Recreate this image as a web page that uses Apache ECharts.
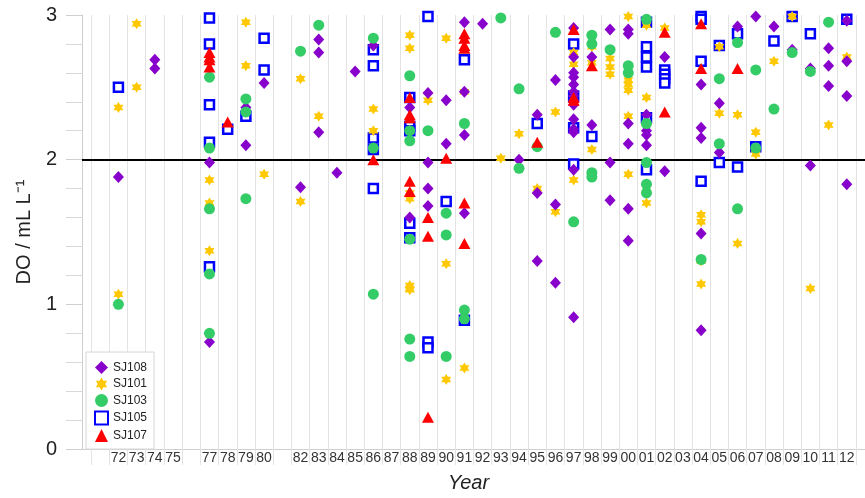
<!DOCTYPE html>
<html>
<head>
<meta charset="utf-8">
<script src="https://cdn.jsdelivr.net/npm/echarts@6/dist/echarts.min.js"></script>
<style>
    html, body { margin: 0; padding: 0; background: #fff; }
    #chart { width: 865px; height: 498px; }
</style>
</head>
<body>
<div id="chart"></div>
<script>
// Axis range and labels
const firstYear = 1970;
const lastYear = 2013;
const unlabeledYears = [1970, 1971, 1976, 1981];
const doTicks = [0, 1, 2, 3];
const doThreshold = 2;

// DO readings per station, [year, DO]
const sj108 = [
    [1972, 1.88], [1974, 2.69], [1974, 2.63], [1977, 1.98], [1977, 0.74],
    [1979, 2.36], [1979, 2.10], [1980, 2.53], [1982, 1.81],
    [1983, 2.83], [1983, 2.74], [1983, 2.19], [1984, 1.91], [1985, 2.61], [1986, 2.79],
    [1988, 2.36], [1988, 1.60], [1989, 2.46], [1989, 1.98], [1989, 1.80], [1989, 1.68],
    [1990, 2.41], [1990, 2.11], [1991, 2.95], [1991, 2.47], [1991, 2.17], [1991, 1.63],
    [1992, 2.94], [1994, 2.00], [1995, 2.31], [1995, 1.77], [1995, 1.30],
    [1996, 2.55], [1996, 1.69], [1996, 1.15],
    [1997, 2.91], [1997, 2.71], [1997, 2.60], [1997, 2.57], [1997, 2.52], [1997, 2.47],
    [1997, 2.44], [1997, 2.41], [1997, 2.38], [1997, 2.28], [1997, 2.21], [1997, 2.19],
    [1997, 1.93], [1997, 0.91],
    [1998, 2.71], [1998, 2.24], [1999, 2.90], [1999, 1.98], [1999, 1.72],
    [2000, 2.90], [2000, 2.87], [2000, 2.25], [2000, 2.11], [2000, 1.66], [2000, 1.44],
    [2001, 2.31], [2001, 2.20], [2001, 2.17], [2001, 2.10], [2002, 2.71], [2002, 1.92],
    [2004, 2.52], [2004, 2.22], [2004, 2.15], [2004, 1.49], [2004, 0.82],
    [2005, 2.39], [2005, 2.05], [2006, 2.92], [2007, 2.99], [2008, 2.92], [2009, 2.76],
    [2010, 2.63], [2010, 1.96], [2011, 2.77], [2011, 2.65], [2011, 2.51],
    [2012, 2.96], [2012, 2.68], [2012, 2.44], [2012, 1.83]
];

const sj101 = [
    [1972, 2.36], [1972, 1.07], [1973, 2.94], [1973, 2.50],
    [1977, 1.86], [1977, 1.70], [1977, 1.37], [1979, 2.95], [1979, 2.65], [1980, 1.90],
    [1982, 2.56], [1982, 1.71], [1983, 2.30], [1986, 2.35], [1986, 2.20],
    [1988, 2.86], [1988, 2.77], [1988, 1.77], [1988, 1.73], [1988, 1.13], [1988, 1.11], [1988, 1.10],
    [1989, 2.41], [1990, 2.84], [1990, 1.28], [1990, 0.48], [1991, 2.47], [1991, 0.56],
    [1993, 2.01], [1994, 2.18], [1995, 1.80], [1996, 2.33], [1996, 1.64],
    [1997, 2.74], [1997, 2.66], [1997, 1.86], [1998, 2.78], [1998, 2.67], [1998, 2.07],
    [1999, 2.70], [1999, 2.64], [1999, 2.59],
    [2000, 2.99], [2000, 2.55], [2000, 2.52], [2000, 2.48], [2000, 2.30], [2000, 1.90],
    [2001, 2.93], [2001, 2.43], [2001, 1.80], [2001, 1.70], [2002, 2.91],
    [2004, 1.62], [2004, 1.57], [2004, 1.30], [2004, 1.14], [2005, 2.78], [2005, 2.32],
    [2006, 2.31], [2006, 1.42], [2007, 2.19], [2007, 2.04], [2008, 2.68], [2009, 2.99],
    [2010, 1.11], [2011, 2.24], [2012, 2.71]
];

const sj103 = [
    [1972, 1.00], [1977, 2.57], [1977, 2.08], [1977, 1.66], [1977, 1.21], [1977, 0.80],
    [1979, 2.42], [1979, 2.33], [1979, 1.73], [1982, 2.75], [1983, 2.93],
    [1986, 2.84], [1986, 2.08], [1986, 1.07],
    [1988, 2.58], [1988, 2.20], [1988, 2.13], [1988, 1.45], [1988, 0.76], [1988, 0.64],
    [1989, 2.20], [1990, 1.63], [1990, 1.48], [1990, 0.64], [1991, 2.25], [1991, 0.96], [1991, 0.90],
    [1993, 2.98], [1994, 2.49], [1994, 1.94], [1995, 2.09], [1996, 2.88], [1997, 1.57],
    [1998, 2.86], [1998, 2.80], [1998, 1.91], [1998, 1.88], [1999, 2.76], [2000, 2.65], [2000, 2.60],
    [2001, 2.97], [2001, 2.25], [2001, 1.98], [2001, 1.83], [2001, 1.77], [2004, 1.31],
    [2005, 2.56], [2005, 2.11], [2006, 2.81], [2006, 1.66], [2007, 2.62], [2007, 2.08],
    [2008, 2.35], [2009, 2.74], [2010, 2.61], [2011, 2.95]
];

const sj105 = [
    [1972, 2.50], [1977, 2.98], [1977, 2.80], [1977, 2.38], [1977, 2.12], [1977, 1.26],
    [1978, 2.21], [1979, 2.30], [1980, 2.84], [1980, 2.62],
    [1986, 2.76], [1986, 2.65], [1986, 2.15], [1986, 2.07], [1986, 1.80],
    [1988, 2.43], [1988, 2.23], [1988, 2.20], [1988, 1.56], [1988, 1.46],
    [1989, 2.99], [1989, 0.74], [1989, 0.70], [1990, 1.71], [1991, 2.69], [1991, 0.89],
    [1995, 2.25], [1997, 2.80], [1997, 2.44], [1997, 2.22], [1997, 1.97], [1998, 2.16],
    [2001, 2.95], [2001, 2.78], [2001, 2.71], [2001, 2.64], [2001, 2.29], [2001, 1.93],
    [2002, 2.62], [2002, 2.59], [2002, 2.56], [2002, 2.53],
    [2004, 2.99], [2004, 2.97], [2004, 2.68], [2004, 1.85], [2005, 2.79], [2005, 1.98],
    [2006, 2.87], [2006, 1.95], [2007, 2.09], [2008, 2.82], [2009, 2.99], [2010, 2.87], [2012, 2.97]
];

const sj107 = [
    [1977, 2.74], [1977, 2.71], [1977, 2.69], [1977, 2.64], [1978, 2.26], [1986, 2.00],
    [1988, 2.43], [1988, 2.31], [1988, 2.29], [1988, 1.85], [1988, 1.78],
    [1989, 1.60], [1989, 1.47], [1989, 0.22], [1990, 2.01],
    [1991, 2.87], [1991, 2.84], [1991, 2.79], [1991, 2.77], [1991, 1.70], [1991, 1.42],
    [1995, 2.12], [1997, 2.90], [1997, 2.43], [1997, 2.41], [1998, 2.65],
    [2002, 2.88], [2002, 2.33], [2004, 2.94], [2004, 2.63], [2006, 2.63]
];

const legendOrder = ['SJ108', 'SJ101', 'SJ103', 'SJ105', 'SJ107'];

// six-pointed star
const hexagram = 'path://M50 0 L64.4 25 L93.3 25 L78.9 50 L93.3 75 L64.4 75 L50 100 L35.6 75 L6.7 75 L21.1 50 L6.7 25 L35.6 25 Z';

const chart = echarts.init(document.getElementById('chart'));
const font = 'Liberation Sans, Arial, sans-serif';
const gridColor = '#e3e3e3';

function scatter(name, data, symbol, size, itemStyle) {
    return {
        name: name,
        type: 'scatter',
        data: data,
        symbol: symbol,
        symbolSize: size,
        itemStyle: itemStyle,
        z: 3
    };
}

const option = {
    animation: false,
    backgroundColor: '#fff',
    textStyle: { fontFamily: font },
    grid: { left: 82, top: 15, height: 436, width: (lastYear - firstYear) * 18.525 },
    legend: {
        data: legendOrder,
        orient: 'vertical',
        left: 86,
        top: 352,
        padding: [9, 7, 7, 8],
        itemWidth: 13,
        itemHeight: 13,
        itemGap: 3.5,
        borderColor: '#d6d6d6',
        borderWidth: 1,
        backgroundColor: '#fff',
        textStyle: { fontSize: 12, color: '#222', fontFamily: font }
    },
    xAxis: {
        type: 'value',
        min: firstYear,
        max: lastYear,
        interval: 1,
        name: 'Year',
        nameLocation: 'middle',
        nameGap: 24,
        nameTextStyle: { fontSize: 20, fontStyle: 'italic', color: '#222', padding: [0, 10, 0, 0] },
        axisLine: { show: true, lineStyle: { color: '#cfcfcf', width: 1 } },
        axisTick: { show: false },
        minorTick: { show: true, splitNumber: 2, length: 16, lineStyle: { color: gridColor } },
        minorSplitLine: { show: true, lineStyle: { color: gridColor, width: 1 } },
        splitLine: { show: false },
        axisLabel: {
            margin: 2,
            fontSize: 14,
            color: '#333',
            showMaxLabel: false,
            formatter: function (v) {
                if (unlabeledYears.indexOf(v) >= 0 || v >= lastYear) return '';
                return String(v % 100).padStart(2, '0');
            }
        }
    },
    yAxis: {
        type: 'value',
        min: doTicks[0],
        max: doTicks[doTicks.length - 1],
        interval: 1,
        name: 'DO / mL L\u207B\u00B9',
        nameLocation: 'middle',
        nameGap: 46,
        nameTextStyle: { fontSize: 20, color: '#222' },
        axisLine: { show: true, lineStyle: { color: '#cfcfcf' } },
        axisTick: { show: true, length: 16, lineStyle: { color: '#cfcfcf' } },
        minorTick: { show: true, splitNumber: 5, length: 16, lineStyle: { color: '#d9d9d9' } },
        splitLine: { show: false },
        axisLabel: { fontSize: 20, color: '#222', margin: 25 }
    },
    series: [
        {
            name: 'threshold',
            type: 'scatter',
            data: [],
            silent: true,
            z: 1,
            markLine: {
                z: 1,
                silent: true,
                symbol: 'none',
                label: { show: false },
                lineStyle: { color: '#000', width: 2, type: 'solid' },
                data: [{ yAxis: doThreshold }]
            }
        },
        scatter('SJ105', sj105, 'rect', 9, { color: '#fff', borderColor: '#0000ff', borderWidth: 2.5, opacity: 1 }),
        scatter('SJ101', sj101, hexagram, [10, 11], { color: '#ffc800', opacity: 1 }),
        scatter('SJ108', sj108, 'diamond', [11, 12], { color: '#8800cc', opacity: 1 }),
        scatter('SJ103', sj103, 'circle', 11, { color: '#33cc66', opacity: 1 }),
        scatter('SJ107', sj107, 'triangle', [12, 11], { color: '#ff0000', opacity: 1 })
    ]
};

chart.setOption(option);
</script>
</body>
</html>
